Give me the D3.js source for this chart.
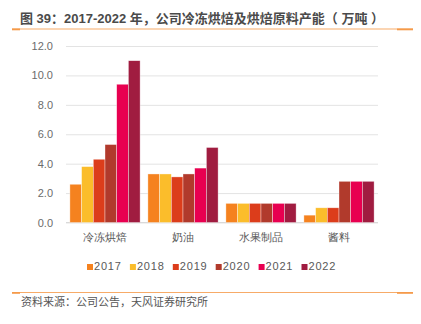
<!DOCTYPE html>
<html>
<head>
<meta charset="utf-8">
<script src="https://cdn.jsdelivr.net/npm/d3@7"></script>
<style>
  html, body { margin: 0; padding: 0; background: #fff; }
  svg { display: block; font-family: "Noto Sans CJK SC", "Liberation Sans", sans-serif; }
</style>
</head>
<body>
<script>
const categories = ['冷冻烘焙', '奶油', '水果制品', '酱料']
const years = ['2017', '2018', '2019', '2020', '2021', '2022']
const values = {
  冷冻烘焙: [2.6, 3.8, 4.3, 5.3, 9.4, 11.0],
  奶油: [3.3, 3.3, 3.1, 3.3, 3.7, 5.1],
  水果制品: [1.3, 1.3, 1.3, 1.3, 1.3, 1.3],
  酱料: [0.5, 1.0, 1.0, 2.8, 2.8, 2.8]
}
const yTicks = [0, 2, 4, 6, 8, 10, 12]
const colors = ['#f5821f', '#fbbd2b', '#dc3d1b', '#b13a2c', '#e80050', '#a01c40']

const W = 421
const H = 324
const plot = { left: 66, right: 378, top: 46, bottom: 222.5 }

const svg = d3.select('body').append('svg')
  .attr('width', W)
  .attr('height', H)

// title and the rule under it
svg.append('text')
  .attr('x', 20)
  .attr('y', 22.5)
  .attr('font-size', 13)
  .attr('font-weight', 600)
  .attr('fill', '#4a4a4a')
  .attr('font-family', '"Liberation Sans", "Noto Sans CJK SC", sans-serif')
  .text('图 39：2017-2022 年，公司冷冻烘焙及烘焙原料产能（ 万吨 ）')

const rule = yPos => {
  svg.append('line')
    .attr('x1', 12).attr('x2', 413)
    .attr('y1', yPos).attr('y2', yPos)
    .attr('stroke', '#f7ab68')
    .attr('stroke-width', 1.2)
  // darker ends of the rule
  ;[[12, 20], [397, 413]].forEach(([a, b]) => svg.append('line')
    .attr('x1', a).attr('x2', b)
    .attr('y1', yPos + 0.4).attr('y2', yPos + 0.4)
    .attr('stroke', '#f59a4a')
    .attr('stroke-width', 1.8))
}
rule(29)

const x0 = d3.scaleBand().domain(categories).range([plot.left, plot.right]).paddingInner(0.1).paddingOuter(0.05)
const x1 = d3.scaleBand().domain(years).range([0, x0.bandwidth()])
const y = d3.scaleLinear().domain([0, 12]).range([plot.bottom, plot.top])

// gridlines + y labels
const yAxis = g => g
  .attr('transform', `translate(${plot.left},0)`)
  .call(d3.axisLeft(y)
    .tickValues(yTicks)
    .tickFormat(d3.format('.1f'))
    .tickSize(-(plot.right - plot.left))
    .tickPadding(13))
  .call(g => g.select('.domain').remove())
  .call(g => g.selectAll('.tick line')
    .attr('stroke', '#e3e3e3')
    .attr('stroke-width', 1))
  .call(g => g.selectAll('.tick text')
    .attr('fill', '#6b6b6b')
    .attr('font-size', 11)
    .attr('font-family', '"Liberation Sans", sans-serif'))

svg.append('g').call(yAxis)

svg.append('line')
  .attr('x1', plot.left).attr('x2', plot.right)
  .attr('y1', y(0)).attr('y2', y(0))
  .attr('stroke', '#d9d9d9')

// bars
svg.append('g')
  .selectAll('g')
  .data(categories).enter()
  .append('g')
  .attr('transform', d => `translate(${x0(d)},0)`)
  .selectAll('rect')
  .data(d => values[d].map((v, i) => ({ year: years[i], v, i })))
  .enter()
  .append('rect')
  .attr('x', d => x1(d.year))
  .attr('width', x1.bandwidth())
  .attr('y', d => y(d.v))
  .attr('height', d => y(0) - y(d.v))
  .attr('fill', d => colors[d.i])
  .attr('stroke', 'rgba(255,255,255,0.6)')
  .attr('stroke-width', 0.6)

// category labels
const xAxis = g => g
  .attr('transform', `translate(0,${plot.bottom})`)
  .call(d3.axisBottom(x0).tickSize(0).tickPadding(11))
  .call(g => g.select('.domain').remove())
  .call(g => g.selectAll('.tick text')
    .attr('fill', '#595959')
    .attr('font-size', 11))

svg.append('g').call(xAxis)

// legend
const legend = svg.append('g')
  .selectAll('g')
  .data(years).enter()
  .append('g')
  .attr('transform', (d, i) => `translate(${87 + i * 42.9},270)`)

legend.append('rect')
  .attr('x', 0).attr('y', -6)
  .attr('width', 6).attr('height', 6)
  .attr('fill', (d, i) => colors[i])

legend.append('text')
  .attr('x', 7)
  .attr('y', 0)
  .attr('font-size', 11)
  .attr('letter-spacing', 0.8)
  .attr('fill', '#595959')
  .attr('font-family', '"Liberation Sans", sans-serif')
  .text(d => d)

// footer rule and source
rule(292.5)

svg.append('text')
  .attr('x', 21)
  .attr('y', 306)
  .attr('font-size', 11)
  .attr('fill', '#555')
  .text('资料来源：公司公告，天风证券研究所')
</script>
</body>
</html>
